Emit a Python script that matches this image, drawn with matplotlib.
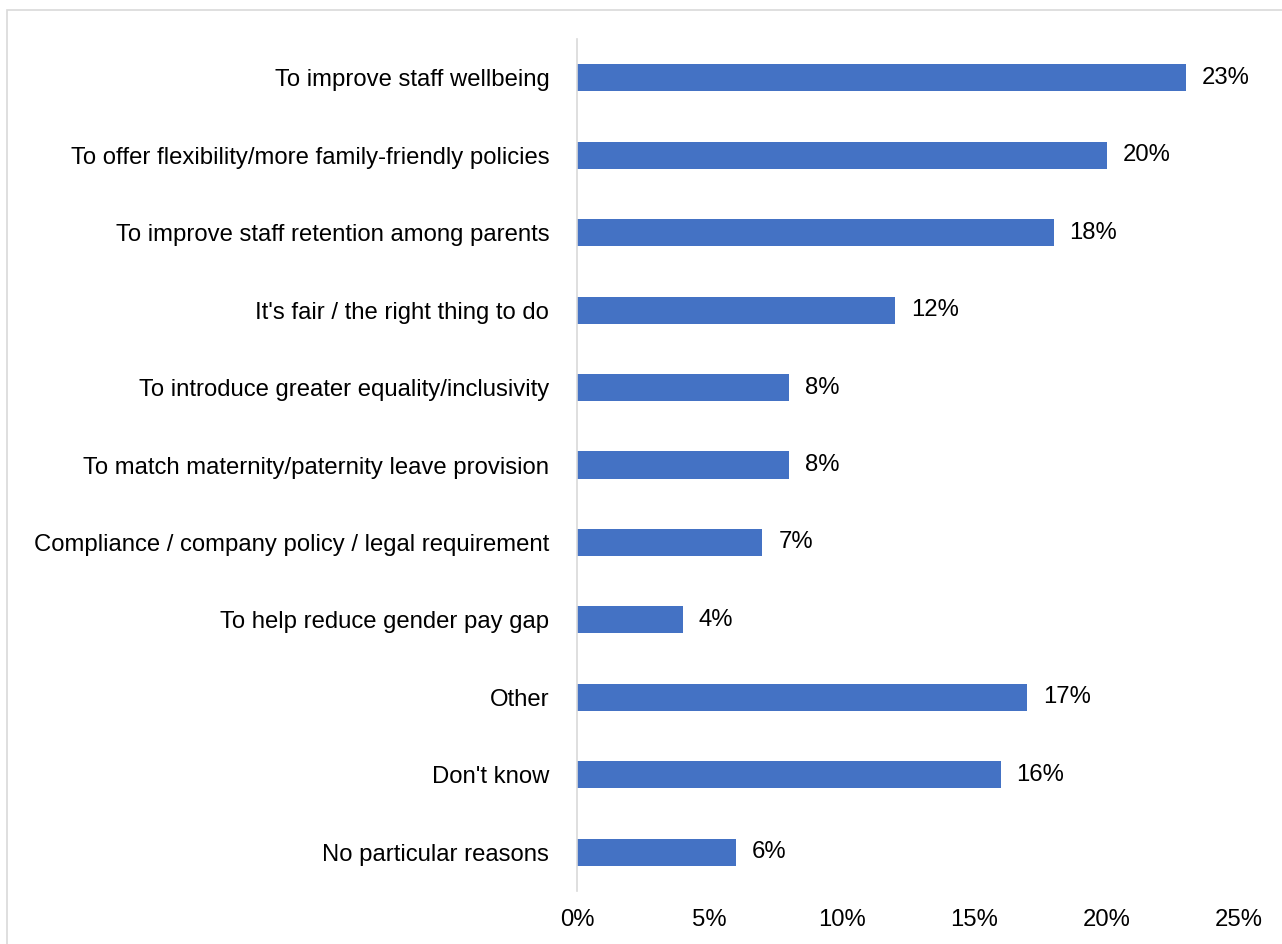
import matplotlib.pyplot as plt
from matplotlib.patches import Rectangle

# データ
reasons = [
    "To improve staff wellbeing",
    "To offer flexibility/more family-friendly policies",
    "To improve staff retention among parents",
    "It's fair / the right thing to do",
    "To introduce greater equality/inclusivity",
    "To match maternity/paternity leave provision",
    "Compliance / company policy / legal requirement",
    "To help reduce gender pay gap",
    "Other",
    "Don't know",
    "No particular reasons",
]
shares = [23, 20, 18, 12, 8, 8, 7, 4, 17, 16, 6]
x_ticks = [0, 5, 10, 15, 20, 25]

plt.rcParams['font.family'] = ['Liberation Sans', 'DejaVu Sans']
fs = 17.2

fig = plt.figure(figsize=(12.82, 9.44), dpi=100)
ax = fig.add_axes([0.4501, 0.0561, 0.5164, 0.9026])

y_pos = list(range(len(reasons)))
ax.barh(y_pos, shares, height=0.35, color="#4472C4")

# 数値ラベル
for y, v in zip(y_pos, shares):
    ax.text(v + 0.6, y, f"{v}%", va="center", ha="left", fontsize=fs, color="#000000")

ax.set_xlim(0, 25)
ax.set_ylim(len(reasons) - 0.5, -0.5)
ax.set_yticks(y_pos)
ax.set_yticklabels(reasons, fontsize=fs)
ax.set_xticks(x_ticks)
ax.set_xticklabels([f"{t}%" for t in x_ticks], fontsize=fs)
ax.tick_params(axis="both", length=0)
ax.tick_params(axis="y", pad=20)
ax.tick_params(axis="x", pad=13)

for side in ["top", "right", "bottom"]:
    ax.spines[side].set_visible(False)
ax.spines["left"].set_color("#D9D9D9")
ax.spines["left"].set_linewidth(1.2)

# 外枠
fig.patches.append(Rectangle((7 / 1282, -0.01), 1.0, 1 - 10 / 944 + 0.01,
                             transform=fig.transFigure, fill=False,
                             edgecolor="#D9D9D9", linewidth=1.2))

fig.savefig("out.png", dpi=100)
